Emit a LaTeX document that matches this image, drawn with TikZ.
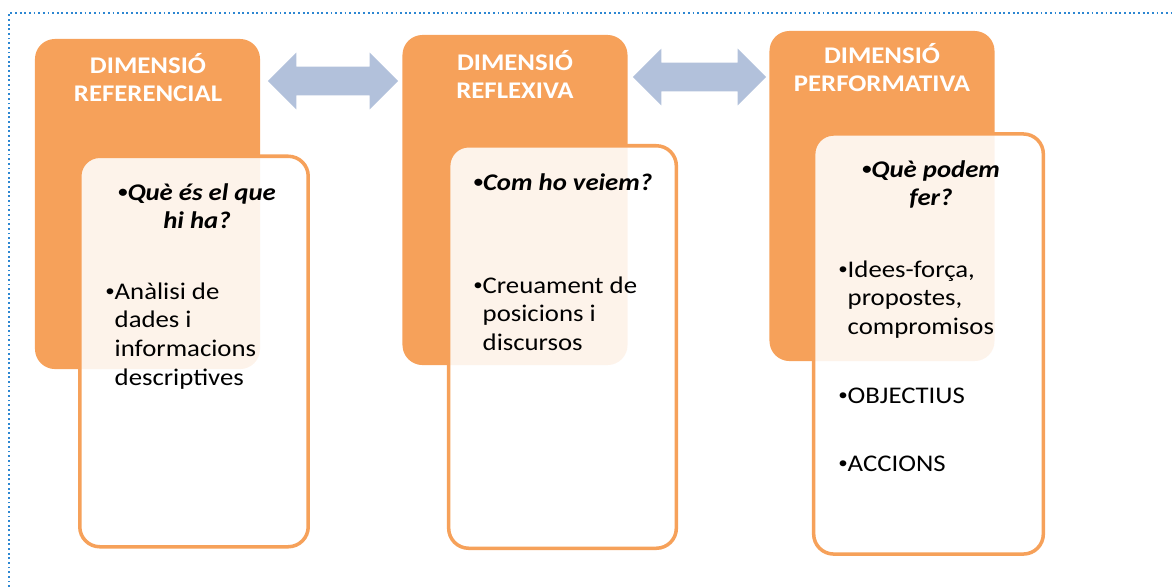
\documentclass[tikz,border=0pt]{standalone}
\usepackage{fontspec}
\setmainfont{Carlito}[FakeStretch=1.12]
\usepackage{tikz}
\usetikzlibrary{shapes.arrows}

\definecolor{dimorange}{RGB}{246,161,90}
\definecolor{arrowblue}{RGB}{178,193,219}
\definecolor{frameblue}{RGB}{45,135,210}

\newcommand{\linesof}[2][l]{\begin{tabular}[t]{@{}#1@{}}#2\end{tabular}}
\newcommand{\bul}{{\fontsize{12}{12}\selectfont\raisebox{1.6pt}{\textbullet}}}

\begin{document}
\begin{tikzpicture}[x=0.025cm,y=-0.025cm,
	dimbox/.style={fill=dimorange, rounded corners=0.5cm, minimum width=5.625cm, minimum height=8.25cm, inner sep=0},
	infobox/.style={draw=dimorange, line width=2.5pt, fill=white, fill opacity=0.88, rounded corners=0.5cm, inner sep=0},
	dimtitle/.style={text=white, font=\bfseries\fontsize{17}{20.6}\selectfont, inner sep=0, anchor=base},
	questext/.style={font=\bfseries\itshape\fontsize{17}{20.6}\selectfont, inner sep=0, anchor=base},
	bodytext/.style={font=\fontsize{17}{20.6}\selectfont, inner sep=0, anchor=base west},
	dblarrow/.style={double arrow, fill=arrowblue, inner sep=0, text height=0.35cm, text depth=0.35cm, double arrow head extend=0.35cm}]
				\useasboundingbox (0,0) rectangle (1175,587);
				\draw[frameblue, dotted, line width=1.3pt] (9,587) -- (9,13) -- (1175,13);
				% orange boxes
				\node[dimbox] (ref) at (147.5,204) {};
				\node[dimbox] (refl) at (515,200) {};
				\node[dimbox] (perf) at (882,196) {};
				% arrows between them
				\node[dblarrow, minimum height=3.25cm] (arr1) at (333,81) {};
				\node[dblarrow, minimum height=3.325cm] (arr2) at (699.5,77) {};
				% white boxes
				\node[infobox, minimum width=5.71cm, minimum height=9.76cm] (refi) at (194,351.5) {};
				\node[infobox, minimum width=5.69cm, minimum height=10.06cm] (refli) at (562.5,347) {};
				\node[infobox, minimum width=5.74cm, minimum height=10.5cm] (perfi) at (928.5,344) {};
				% titles
				\node[dimtitle] (reft) at (148,73) {\linesof[c]{DIMENSIÓ\\REFERENCIAL}};
				\node[dimtitle] (reflt) at (515,70) {\linesof[c]{DIMENSIÓ\\REFLEXIVA}};
				\node[dimtitle] (perft) at (882,63) {\linesof[c]{DIMENSIÓ\\PERFORMATIVA}};
				% questions
				\node[questext] (refq) at (197,200) {\linesof[c]{\bul Què és el que\\hi ha?}};
				\node[questext] (reflq) at (563,190) {\bul Com ho veiem?};
				\node[questext] (perfq) at (931,177) {\linesof[c]{\bul Què podem\\fer?}};
				% items
				\node[bodytext] (refa) at (105,299) {\bul\linesof{Anàlisi de\\dades i\\informacions\\descriptives}};
				\node[bodytext] (refla) at (473,293) {\bul\linesof{Creuament de\\posicions i\\discursos}};
				\node[bodytext] (perfa) at (838,277) {\bul\linesof{Idees-força,\\propostes,\\compromisos}};
				\node[bodytext] (perfb) at (838,403) {\bul OBJECTIUS};
				\node[bodytext] (perfc) at (838,471) {\bul ACCIONS};
			\end{tikzpicture}
\end{document}
